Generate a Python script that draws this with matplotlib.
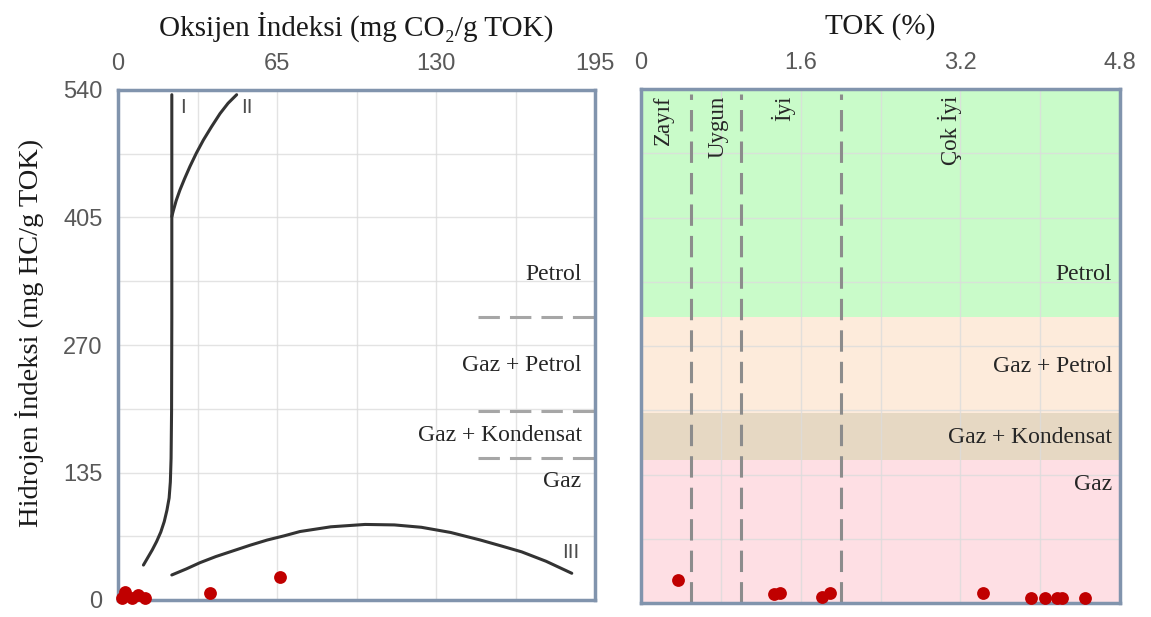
import matplotlib.pyplot as plt

# samples: oxygen index / hydrogen index (left panel)
oi_values = [1.5, 2.9, 5.6, 8.3, 11.0, 37.6, 66.2]
hi_left = [2.0, 9.0, 2.0, 5.0, 2.0, 7.0, 24.0]

# samples: TOK / hydrogen index (right panel)
tok_values = [0.37, 1.33, 1.39, 1.81, 1.89, 3.43, 3.91, 4.05, 4.17, 4.22, 4.45]
hi_right = [24.2, 9.1, 10.2, 6.6, 10.2, 10.2, 4.9, 4.9, 4.9, 4.9, 4.9]

# kerogen type guide curves
type1_x = [22.0, 22.0, 21.9, 21.7, 21.4, 20.9, 20.0, 18.9, 17.5, 15.8, 14.0, 12.2, 10.4]
type1_y = [535, 300, 200, 150, 125, 108, 95, 83, 72, 62, 53, 45, 37]
type2_x = [22.0, 22.6, 23.8, 25.3, 27.2, 29.4, 32.0, 34.9, 38.2, 41.7, 45.0, 48.5]
type2_y = [406, 412, 423, 434, 446, 459, 473, 487, 501, 515, 526, 535]
type3_x = [22.0, 28, 33.5, 40, 47, 54, 61, 68, 74.4, 87, 101, 113, 124, 136, 148, 157, 165, 175, 185.5]
type3_y = [26.5, 33, 39.5, 46, 52, 58, 63.5, 68, 72.5, 77.5, 80, 79.5, 77, 71.5, 63.6, 57, 51, 41, 28.3]

# generation zones (HI limits) and TOK quality limits
zone_limits = [0, 150, 200, 300, 540]
zone_colors = ["#fedfe4", "#e6d8c3", "#fdebdb", "#c9fbc9"]
zone_names = ["Gaz", "Gaz + Kondensat", "Gaz + Petrol", "Petrol"]
zone_label_y = [125, 174, 248, 345]
tok_limits = [0.5, 1.0, 2.0]
tok_names = ["Zayıf", "Uygun", "İyi", "Çok İyi"]
tok_name_x = [0.22, 0.77, 1.42, 3.1]

oi_ticks = [0, 65, 130, 195]
tok_ticks = [0, 1.6, 3.2, 4.8]
hi_ticks = [0, 135, 270, 405, 540]

serif = ["Liberation Serif", "DejaVu Serif"]
sans = ["Liberation Sans", "DejaVu Sans"]
tick_color = "#595959"
spine_color = "#8194ad"
dot_color = "#c00000"


def style_axes(ax):
    ax.set_axisbelow(True)
    ax.grid(True, color="#dcdcdc", linewidth=1, alpha=0.8)
    for sp in ax.spines.values():
        sp.set_color(spine_color)
        sp.set_linewidth(2.5)
        sp.set_zorder(5)
    ax.xaxis.tick_top()
    ax.tick_params(length=0, pad=11, labelsize=17, labelcolor=tick_color)
    for lab in ax.get_xticklabels() + ax.get_yticklabels():
        lab.set_fontfamily(sans)


def main():
    fig = plt.figure(figsize=(11.51, 6.17), dpi=100)
    ax1 = fig.add_axes([118 / 1151, 17 / 617, 477 / 1151, 510 / 617])
    ax2 = fig.add_axes([641 / 1151, 14 / 617, 479 / 1151, 514 / 617])

    # ---- left panel
    ax1.set_xlim(0, 195)
    ax1.set_ylim(0, 540)
    ax1.set_xticks(oi_ticks)
    ax1.set_yticks(hi_ticks)
    ax1.set_xticks([32.5, 97.5, 162.5], minor=True)
    ax1.set_yticks([67.5, 202.5, 337.5, 472.5], minor=True)
    ax1.grid(True, which="minor", color="#dcdcdc", linewidth=1, alpha=0.8)
    ax1.tick_params(which="minor", length=0)
    style_axes(ax1)

    for xs, ys in [(type1_x, type1_y), (type2_x, type2_y), (type3_x, type3_y)]:
        ax1.plot(xs, ys, color="#333333", linewidth=2.2, solid_capstyle="round",
                 solid_joinstyle="round")
    ax1.text(26.6, 521, "I", fontsize=15, color="#4d4d4d", family=sans, ha="center", va="center")
    ax1.text(52.7, 521, "II", fontsize=15, color="#4d4d4d", family=sans, ha="center", va="center")
    ax1.text(185.2, 50, "III", fontsize=15, color="#4d4d4d", family=sans, ha="center", va="center")

    for lim in zone_limits[1:4]:
        ax1.plot([147, 195], [lim, lim], color="#a6a6a6", linewidth=2.2, dashes=(7, 3.3))
    for name, y in zip(zone_names, zone_label_y):
        ax1.text(189.5, y, name, fontsize=17, family=serif, color="#262626", ha="right", va="center")

    ax1.scatter(oi_values, hi_left, s=85, color=dot_color, zorder=6, clip_on=False, linewidths=0)

    # ---- right panel
    ax2.set_xlim(0, 4.8)
    ax2.set_ylim(0, 540)
    ax2.set_xticks(tok_ticks)
    ax2.set_xticklabels(["0", "1.6", "3.2", "4.8"])
    ax2.set_xticks([0.8, 2.4, 4.0], minor=True)
    ax2.set_yticks(hi_ticks)
    ax2.set_yticks([67.5, 202.5, 337.5, 472.5], minor=True)
    ax2.set_yticklabels([])
    ax2.grid(True, which="minor", color="#dcdcdc", linewidth=1, alpha=0.8)
    ax2.tick_params(which="minor", length=0)
    style_axes(ax2)

    for i in range(4):
        ax2.axhspan(zone_limits[i], zone_limits[i + 1], color=zone_colors[i], zorder=0, linewidth=0)
    for name, y in zip(zone_names, zone_label_y):
        ax2.text(4.72, y, name, fontsize=17, family=serif, color="#262626", ha="right", va="center")

    for lim in tok_limits:
        ax2.plot([lim, lim], [0, 535], color="#8c8c8c", linewidth=2.2, dashes=(7, 3.3))
    for name, x in zip(tok_names, tok_name_x):
        ax2.text(x, 533, name, fontsize=16.5, family=serif, color="#262626", rotation=90,
                 ha="center", va="top")

    ax2.scatter(tok_values, hi_right, s=85, color=dot_color, zorder=6, clip_on=False, linewidths=0)

    # ---- titles
    fig.text(356 / 1151, 1 - 27 / 617, "Oksijen İndeksi (mg CO₂/g TOK)", fontsize=21,
             family=serif, color="#1a1a1a", ha="center", va="center")
    fig.text(880 / 1151, 1 - 27 / 617, "TOK (%)", fontsize=21,
             family=serif, color="#1a1a1a", ha="center", va="center")
    fig.text(30 / 1151, 1 - 333 / 617, "Hidrojen İndeksi (mg HC/g TOK)", fontsize=20.5,
             family=serif, color="#1a1a1a", rotation=90, ha="center", va="center")

    fig.savefig("out.png", dpi=100)


if __name__ == "__main__":
    main()
